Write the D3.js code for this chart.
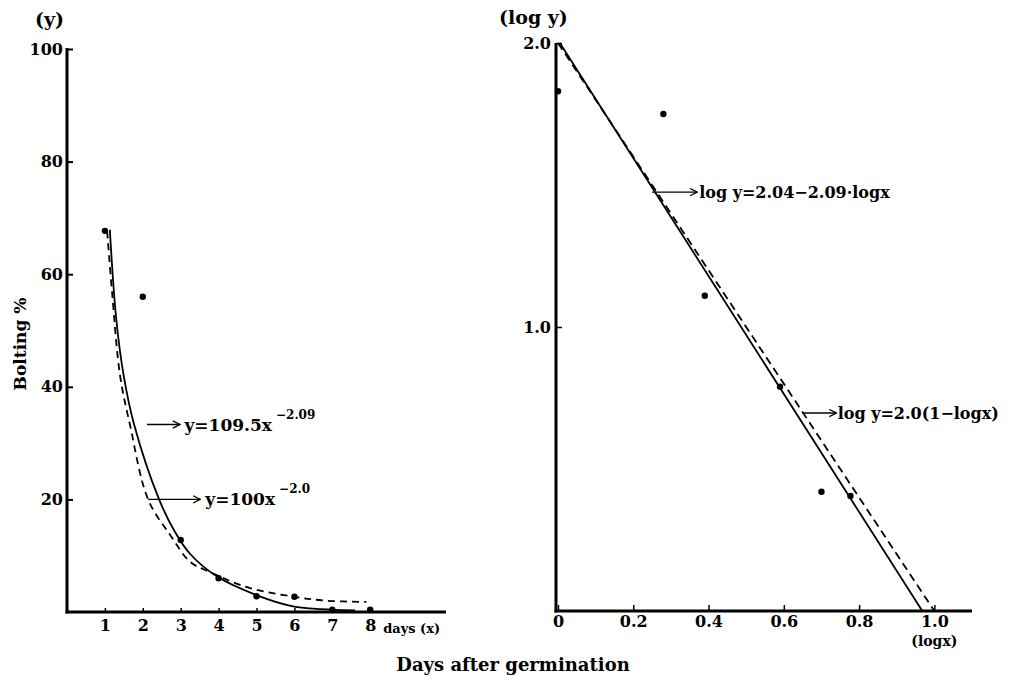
<!DOCTYPE html>
<html>
<head>
<meta charset="utf-8">
<script src="https://cdn.jsdelivr.net/npm/d3@7"></script>
<style>
  html, body { margin: 0; padding: 0; background: #fff; }
  svg text { font-family: "DejaVu Serif", "Liberation Serif", serif; font-weight: bold; fill: #000; }
</style>
</head>
<body>
<svg id="chart" width="1011" height="682"></svg>
<script>
// ---------- data ----------
const days = [1, 2, 3, 4, 5, 6, 7, 8];
const bolting = [67.7, 56, 12.8, 6.0, 2.8, 2.7, 0.4, 0.4];

// fitted curve y = 109.5 x^-2.09 (solid), as drawn
const solidX = [1.13, 1.3, 1.5, 1.77, 2.43, 2.85, 3.25, 3.98, 5.0, 5.9, 6.7, 7.6];
const solidY = [67.9, 52.0, 41.8, 33.3, 20, 14.2, 10.3, 6.2, 3.0, 1.1, 0.5, 0.3];
// curve y = 100 x^-2.0 (dashed), as drawn
const dashX = [1.06, 1.19, 1.4, 1.66, 2.14, 2.74, 3.25, 3.77, 4.75, 6.0, 6.86, 7.9];
const dashY = [67.6, 56.7, 42, 33.3, 20, 13.5, 8.9, 7.1, 4.4, 2.7, 2.0, 1.8];

const leftYTicks = [20, 40, 60, 80, 100];
const leftYLabels = ["20", "40", "60", "80", "100"];
const leftXTicks = [1, 2, 3, 4, 5, 6, 7, 8];
const leftXLabels = ["1", "2", "3", "4", "5", "6", "7", "8"];

// log-log panel points
const logX = [0, 0.28, 0.39, 0.59, 0.70, 0.777];
const logY = [1.83, 1.75, 1.11, 0.79, 0.42, 0.405];
// straight lines: solid log y = 2.04 - 2.09 log x, dashed log y = 2.0(1 - log x)
const solidLineX = [0.005, 0.968];
const solidLineY = [2.0, 0];
const dashLineX = [0, 1.0];
const dashLineY = [2.0, 0];

const rightYTicks = [1.0, 2.0];
const rightYLabels = ["1.0", "2.0"];
const rightXTicks = [0, 0.2, 0.4, 0.6, 0.8, 1.0];
const rightXLabels = ["0", "0.2", "0.4", "0.6", "0.8", "1.0"];

// ---------- drawing ----------
const svg = d3.select("#chart");

svg.append("defs").append("marker")
  .attr("id", "arr").attr("viewBox", "0 0 10 10")
  .attr("refX", 9).attr("refY", 5)
  .attr("markerWidth", 9).attr("markerHeight", 9)
  .attr("markerUnits", "userSpaceOnUse")
  .attr("orient", "auto")
  .append("path").attr("d", "M1,1 L9,5 L1,9")
  .attr("fill", "none").attr("stroke", "#000").attr("stroke-width", 1.4);

function styleTicks(g, lw) {
  g.select(".domain").remove();
  g.selectAll(".tick line").attr("stroke", "#000").attr("stroke-width", lw);
  g.selectAll(".tick text").attr("font-size", 16);
}

// ===== Left panel =====
const xL = d3.scaleLinear().domain([0, 10]).range([67, 446]);
const yL = d3.scaleLinear().domain([0, 100]).range([612, 49]);
const gL = svg.append("g");

gL.append("line").attr("x1", xL(0)).attr("x2", xL(0)).attr("y1", yL(100) - 1).attr("y2", yL(0) + 1.5)
  .attr("stroke", "#000").attr("stroke-width", 3);
gL.append("line").attr("x1", xL(0) - 1.5).attr("x2", xL(10)).attr("y1", yL(0)).attr("y2", yL(0))
  .attr("stroke", "#000").attr("stroke-width", 3);

const yAxL = d3.axisLeft(yL).tickValues(leftYTicks)
  .tickFormat((d, i) => leftYLabels[i]).tickSizeInner(-6).tickSizeOuter(0).tickPadding(4);
const gyL = gL.append("g").attr("transform", `translate(${xL(0)},0)`).call(yAxL);
styleTicks(gyL, 2);

const xAxL = d3.axisBottom(xL).tickValues(leftXTicks)
  .tickFormat((d, i) => leftXLabels[i]).tickSizeInner(-4).tickSizeOuter(0).tickPadding(8);
const gxL = gL.append("g").attr("transform", `translate(0,${yL(0)})`).call(xAxL);
styleTicks(gxL, 1.5);

gL.append("text").attr("x", xL(8) + 13).attr("y", yL(0) + 21).attr("font-size", 13).text("days (x)");
gL.append("text").attr("x", 35).attr("y", 26).attr("font-size", 19).text("(y)");
gL.append("text").attr("transform", `translate(26,344) rotate(-90)`).attr("text-anchor", "middle")
  .attr("font-size", 17).text("Bolting %");

const lineL = d3.line().x(d => xL(d[0])).y(d => yL(d[1])).curve(d3.curveCatmullRom.alpha(0.5));
gL.append("path").datum(dashX.map((x, i) => [x, dashY[i]])).attr("d", lineL)
  .attr("fill", "none").attr("stroke", "#000").attr("stroke-width", 1.8).attr("stroke-dasharray", "7,5");
gL.append("path").datum(solidX.map((x, i) => [x, solidY[i]])).attr("d", lineL)
  .attr("fill", "none").attr("stroke", "#000").attr("stroke-width", 1.8);

gL.selectAll("circle.pt").data(days.map((d, i) => [d, bolting[i]])).enter().append("circle")
  .attr("class", "pt").attr("cx", d => xL(d[0])).attr("cy", d => yL(d[1])).attr("r", 3.2).attr("fill", "#000");

const annL = [
  { x0: 2.11, x1: 2.98, y: 33.3, tx: 3.1, main: "y=109.5x", sup: "−2.09" },
  { x0: 2.14, x1: 3.52, y: 20, tx: 3.65, main: "y=100x", sup: "−2.0" }
];
annL.forEach(a => {
  gL.append("line").attr("x1", xL(a.x0)).attr("x2", xL(a.x1)).attr("y1", yL(a.y)).attr("y2", yL(a.y))
    .attr("stroke", "#000").attr("stroke-width", 1.4).attr("marker-end", "url(#arr)");
  const t = gL.append("text").attr("x", xL(a.tx)).attr("y", yL(a.y) + 6).attr("font-size", 17);
  t.append("tspan").text(a.main);
  t.append("tspan").attr("dx", 4).attr("dy", -12).attr("font-size", 12).text(a.sup);
});

// ===== Right panel =====
const xR = d3.scaleLinear().domain([0, 1.1]).range([558, 972]);
const yR = d3.scaleLinear().domain([0, 2]).range([611, 43]);
const gR = svg.append("g");

gR.append("line").attr("x1", xR(0) - 2).attr("x2", xR(0) - 2).attr("y1", yR(2)).attr("y2", yR(0) + 1.5)
  .attr("stroke", "#000").attr("stroke-width", 3);
gR.append("line").attr("x1", xR(0) - 3.5).attr("x2", xR(1.1)).attr("y1", yR(0)).attr("y2", yR(0))
  .attr("stroke", "#000").attr("stroke-width", 3);

const yAxR = d3.axisLeft(yR).tickValues(rightYTicks)
  .tickFormat((d, i) => rightYLabels[i]).tickSizeInner(-6).tickSizeOuter(0).tickPadding(5);
const gyR = gR.append("g").attr("transform", `translate(${xR(0) - 2},0)`).call(yAxR);
styleTicks(gyR, 1.5);

const xAxR = d3.axisBottom(xR).tickValues(rightXTicks)
  .tickFormat((d, i) => rightXLabels[i]).tickSizeInner(-6).tickSizeOuter(0).tickPadding(5);
const gxR = gR.append("g").attr("transform", `translate(0,${yR(0)})`).call(xAxR);
styleTicks(gxR, 1.5);

gR.append("text").attr("x", xR(1.0)).attr("y", yR(0) + 35).attr("text-anchor", "middle")
  .attr("font-size", 14).text("(logx)");
gR.append("text").attr("x", 499).attr("y", 24).attr("font-size", 19).text("(log y)");

const lineR = d3.line().x(d => xR(d[0])).y(d => yR(d[1]));
gR.append("path").datum(dashLineX.map((x, i) => [x, dashLineY[i]])).attr("d", lineR)
  .attr("fill", "none").attr("stroke", "#000").attr("stroke-width", 1.8).attr("stroke-dasharray", "8,5");
gR.append("path").datum(solidLineX.map((x, i) => [x, solidLineY[i]])).attr("d", lineR)
  .attr("fill", "none").attr("stroke", "#000").attr("stroke-width", 1.8);

gR.selectAll("circle.pt").data(logX.map((d, i) => [d, logY[i]])).enter().append("circle")
  .attr("class", "pt").attr("cx", d => xR(d[0])).attr("cy", d => yR(d[1])).attr("r", 3.2).attr("fill", "#000");

const annR = [
  { x0: 0.25, x1: 0.37, y: 1.475, tx: 0.375, label: "log y=2.04−2.09·logx" },
  { x0: 0.65, x1: 0.74, y: 0.697, tx: 0.743, label: "log y=2.0(1−logx)" }
];
annR.forEach(a => {
  gR.append("line").attr("x1", xR(a.x0)).attr("x2", xR(a.x1)).attr("y1", yR(a.y)).attr("y2", yR(a.y))
    .attr("stroke", "#000").attr("stroke-width", 1.4).attr("marker-end", "url(#arr)");
  gR.append("text").attr("x", xR(a.tx)).attr("y", yR(a.y) + 6).attr("font-size", 16).text(a.label);
});

svg.append("text").attr("x", 513).attr("y", 671).attr("text-anchor", "middle")
  .attr("font-size", 18).text("Days after germination");
</script>
</body>
</html>
